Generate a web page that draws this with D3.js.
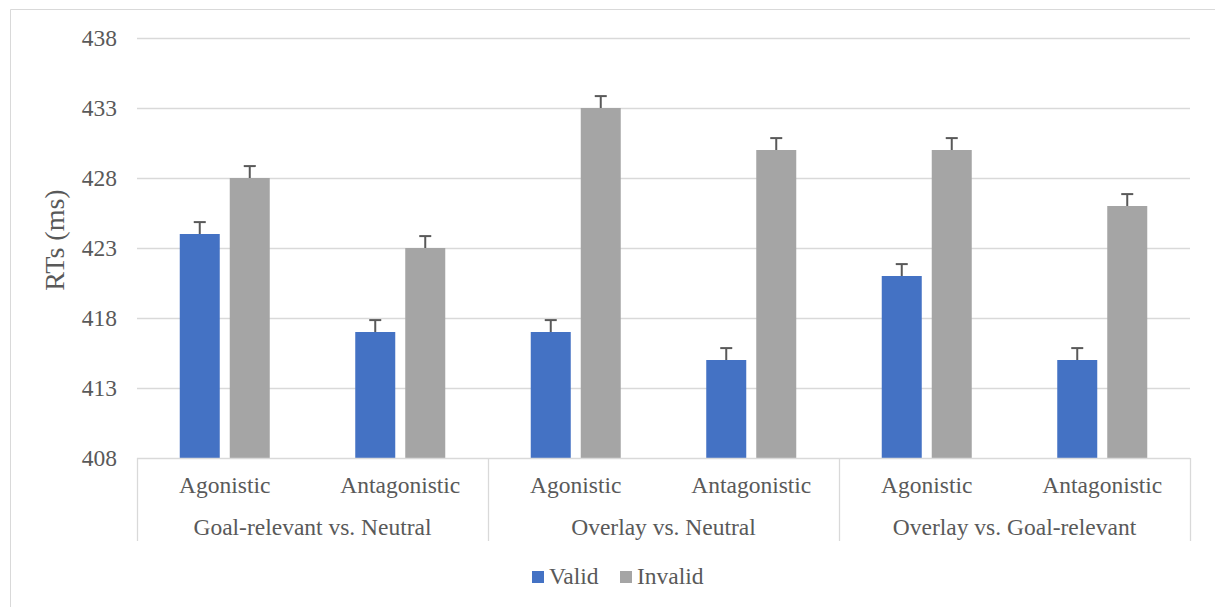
<!DOCTYPE html>
<html>
<head>
<meta charset="utf-8">
<script src="https://cdn.jsdelivr.net/npm/d3@7"></script>
<style>
  html, body { margin: 0; padding: 0; background: #fff; }
  svg { display: block; }
</style>
</head>
<body>
<svg id="chart" width="1215" height="607"></svg>
<script>
const groups = ["Goal-relevant vs. Neutral", "Overlay vs. Neutral", "Overlay vs. Goal-relevant"];
const conditions = ["Agonistic", "Antagonistic"];
const seriesNames = ["Valid", "Invalid"];
const validValues = [424, 417, 417, 415, 421, 415];
const invalidValues = [428, 423, 433, 430, 430, 426];
const validErrors = [0.85, 0.85, 0.85, 0.85, 0.85, 0.85];
const invalidErrors = [0.85, 0.85, 0.85, 0.85, 0.85, 0.85];
const yTicks = [408, 413, 418, 423, 428, 433, 438];
const yTitle = "RTs (ms)";

(function () {
const colors = { Valid: "#4472C4", Invalid: "#A5A5A5" };
const gridColor = "#D9D9D9";
const textColor = "#595959";
const fontFamily = "'Liberation Serif', 'DejaVu Serif', serif";
const fontSize = 23.5;

const svg = d3.select("#chart");
const pLeft = 137, pRight = 1190, pTop = 38, pBottom = 458;

function styleText(sel, size) {
  return sel.attr("font-family", fontFamily).style("font-family", fontFamily)
    .style("font-size", size + "px").attr("fill", textColor);
}

// frame
svg.append("line").attr("x1", 10.5).attr("x2", 1215).attr("y1", 9.5).attr("y2", 9.5)
  .attr("stroke", gridColor).attr("stroke-width", 1);
svg.append("line").attr("x1", 10.5).attr("x2", 10.5).attr("y1", 9.5).attr("y2", 607)
  .attr("stroke", gridColor).attr("stroke-width", 1);

const y = d3.scaleLinear().domain([408, 438]).range([pBottom, pTop]);
const xGroup = d3.scaleBand().domain(groups).range([pLeft, pRight]);
const xCond = d3.scaleBand().domain(conditions).range([0, xGroup.bandwidth()]);
const xSeries = d3.scaleBand().domain(seriesNames).paddingInner(0.2).range([-45, 45]);

// gridlines
svg.append("g").selectAll("line").data(yTicks.slice(1)).join("line")
  .attr("x1", pLeft).attr("x2", pRight)
  .attr("y1", d => Math.round(y(d)) + 0.5).attr("y2", d => Math.round(y(d)) + 0.5)
  .attr("stroke", gridColor).attr("stroke-width", 1.3);

// y axis labels
const yAxis = d3.axisLeft(y).tickValues(yTicks).tickSize(0).tickPadding(20);
const yg = svg.append("g").attr("transform", `translate(${pLeft},0)`).call(yAxis);
yg.select(".domain").remove();
yg.attr("font-family", fontFamily);
styleText(yg.selectAll("text"), fontSize);

// y title
styleText(svg.append("text").attr("transform", `translate(64,240) rotate(-90)`)
  .attr("text-anchor", "middle"), 28).text(yTitle);

// build records
const records = [];
groups.forEach((g, gi) => {
  conditions.forEach((c, ci) => {
    const idx = gi * conditions.length + ci;
    records.push({ group: g, cond: c, series: "Valid", value: validValues[idx], err: validErrors[idx] });
    records.push({ group: g, cond: c, series: "Invalid", value: invalidValues[idx], err: invalidErrors[idx] });
  });
});

function catCenter(d) { return xGroup(d.group) + xCond(d.cond) + xCond.bandwidth() / 2; }

// bars
svg.append("g").selectAll("rect").data(records).join("rect")
  .attr("x", d => catCenter(d) + xSeries(d.series))
  .attr("width", xSeries.bandwidth())
  .attr("y", d => y(d.value))
  .attr("height", d => y(408) - y(d.value))
  .attr("fill", d => colors[d.series]);

// error bars
const eg = svg.append("g").attr("stroke", "#595959").attr("stroke-width", 2);
records.forEach(d => {
  const cx = catCenter(d) + xSeries(d.series) + xSeries.bandwidth() / 2;
  eg.append("line").attr("x1", cx).attr("x2", cx).attr("y1", y(d.value)).attr("y2", y(d.value + d.err));
  eg.append("line").attr("x1", cx - 6).attr("x2", cx + 6).attr("y1", y(d.value + d.err)).attr("y2", y(d.value + d.err));
});

// x axis line
svg.append("line").attr("x1", pLeft).attr("x2", pRight).attr("y1", pBottom + 0.5).attr("y2", pBottom + 0.5)
  .attr("stroke", gridColor).attr("stroke-width", 1.3);

// group separators
const seps = groups.map(g => xGroup(g)).concat([pRight]);
svg.append("g").selectAll("line").data(seps).join("line")
  .attr("x1", d => Math.round(d) + 0.5).attr("x2", d => Math.round(d) + 0.5)
  .attr("y1", pBottom).attr("y2", 541)
  .attr("stroke", gridColor).attr("stroke-width", 1.3);

// condition labels
const condLabels = [];
groups.forEach(g => conditions.forEach(c => condLabels.push({ group: g, cond: c })));
styleText(svg.append("g").selectAll("text").data(condLabels).join("text")
  .attr("x", d => catCenter(d)).attr("y", 493)
  .attr("text-anchor", "middle"), fontSize)
  .text(d => d.cond);

// group labels
styleText(svg.append("g").selectAll("text").data(groups).join("text")
  .attr("x", d => xGroup(d) + xGroup.bandwidth() / 2).attr("y", 535)
  .attr("text-anchor", "middle"), fontSize)
  .text(d => d);

// legend
const legendItems = [{ name: "Valid", x: 532 }, { name: "Invalid", x: 620 }];
const lg = svg.append("g");
legendItems.forEach(it => {
  lg.append("rect").attr("x", it.x).attr("y", 571).attr("width", 12).attr("height", 12).attr("fill", colors[it.name]);
  styleText(lg.append("text").attr("x", it.x + 17).attr("y", 584), fontSize).text(it.name);
});
})();
</script>
</body>
</html>
